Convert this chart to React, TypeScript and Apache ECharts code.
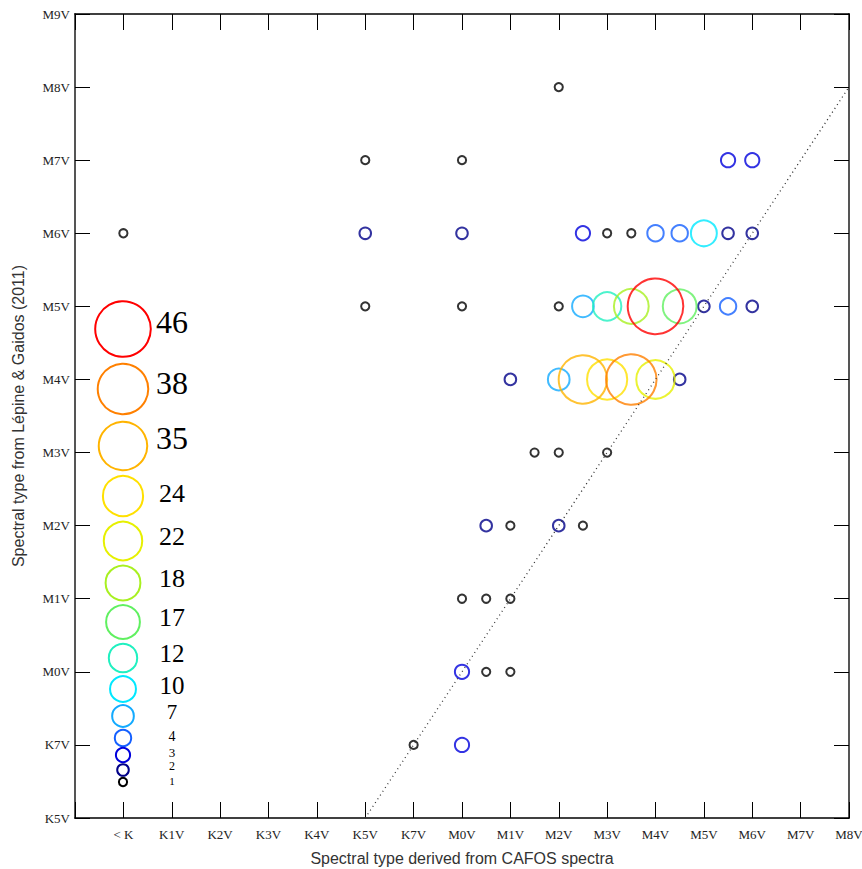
import React, { useEffect, useRef } from "react";
import * as echarts from "echarts";

// Axis categories (index = position on the axis)
const xLabels = ["< K", "K1V", "K2V", "K3V", "K4V", "K5V", "K7V", "M0V", "M1V", "M2V", "M3V", "M4V", "M5V", "M6V", "M7V", "M8V"];
const yLabels = ["K5V", "K7V", "M0V", "M1V", "M2V", "M3V", "M4V", "M5V", "M6V", "M7V", "M8V", "M9V"];

// Data: CAFOS type index, Lépine & Gaidos type index, number of stars
const cafosType = [
  9,
  5, 7, 12.5, 13,
  0, 5, 7, 9.5, 10, 10.5, 11, 11.5, 12, 12.5, 13,
  5, 7, 9, 9.5, 10, 10.5, 11, 11.5, 12, 12.5, 13,
  8, 9, 9.5, 10, 10.5, 11, 11.5,
  8.5, 9, 10,
  7.5, 8, 9, 9.5,
  7, 7.5, 8,
  7, 7.5, 8,
  6, 7,
];
const lepineType = [
  10,
  9, 9, 9, 9,
  8, 8, 8, 8, 8, 8, 8, 8, 8, 8, 8,
  7, 7, 7, 7, 7, 7, 7, 7, 7, 7, 7,
  6, 6, 6, 6, 6, 6, 6,
  5, 5, 5,
  4, 4, 4, 4,
  3, 3, 3,
  2, 2, 2,
  1, 1,
];
const counts = [
  1,
  1, 1, 3, 3,
  1, 2, 2, 3, 1, 1, 4, 4, 10, 2, 2,
  1, 1, 1, 7, 12, 18, 46, 17, 2, 4, 2,
  2, 7, 35, 24, 38, 22, 2,
  1, 1, 1,
  2, 1, 2, 1,
  1, 1, 1,
  3, 1, 1,
  1, 3,
];

// Size legend
const legendCounts = [46, 38, 35, 24, 22, 18, 17, 12, 10, 7, 4, 3, 2, 1];
const legendColors = [
  "#ff0000", "#ff8000", "#ffb400", "#ffe000", "#e6f000", "#a8f020", "#60f060",
  "#20f0c0", "#00e8ff", "#12aaff", "#1560ff", "#0000dc", "#000088", "#000000",
];

// 1:1 relation line (K5V = K5V ... M8V = M8V)
const oneToOne = [[5, 0], [15, 10]];

const sizeOf = (n: number) => 8.2 * Math.sqrt(n);
const colorOf = (n: number) => legendColors[legendCounts.indexOf(n)] ?? "#000";

export default function App() {
  const ref = useRef<HTMLDivElement>(null);
  useEffect(() => {
    if (!ref.current) return;
    const chart = echarts.init(ref.current, null, { renderer: "svg" });

    const idx = counts.map((_, i) => i).sort((a, b) => counts[a] - counts[b]);
    const points = idx.map((i) => ({
      value: [cafosType[i], lepineType[i], counts[i]],
      itemStyle: { borderColor: colorOf(counts[i]) },
    }));

    const legendCy = [329, 389, 446, 496, 541, 583, 622, 658, 689, 716, 738, 755, 770, 782];
    const legendTy = [322, 383, 438, 493, 536, 578, 617, 653, 685, 712, 736, 752, 766, 781];
    const legendFs = [32, 32, 32, 26, 26, 26, 26, 25, 25, 21, 14, 13, 12, 11];

    const graphic: any[] = [];
    legendCounts.forEach((n, i) => {
      graphic.push({
        type: "circle",
        shape: { cx: 123, cy: legendCy[i], r: sizeOf(n) / 2 },
        style: { fill: "none", stroke: legendColors[i], lineWidth: 2 },
        z: 10,
      });
      graphic.push({
        type: "text",
        x: 172,
        y: legendTy[i],
        style: {
          text: String(n),
          font: `${legendFs[i]}px "Liberation Serif", "DejaVu Serif", serif`,
          textAlign: "center",
          textVerticalAlign: "middle",
          fill: "#000",
        },
        z: 10,
      });
    });

    const serif = '"Liberation Serif", "Times New Roman", serif';
    const sans = '"Liberation Sans", Arial, sans-serif';

    const baseX = {
      type: "value",
      min: -1,
      max: 15,
      interval: 1,
      splitLine: { show: false },
      axisTick: { show: true, inside: true, length: 16, lineStyle: { color: "#000", width: 1 } },
    };
    const baseY = {
      type: "value",
      min: 0,
      max: 11,
      interval: 1,
      splitLine: { show: false },
      axisTick: { show: true, inside: true, length: 15, lineStyle: { color: "#000", width: 1 } },
    };

    chart.setOption({
      animation: false,
      backgroundColor: "#fff",
      grid: { left: 75, right: 13, top: 14, bottom: 51, containLabel: false, outerBoundsMode: "none" },
      xAxis: [
        {
          ...baseX,
          position: "bottom",
          axisLine: { onZero: false, lineStyle: { color: "#000", width: 1.5 } },
          axisLabel: {
            formatter: (v: number) => xLabels[v] ?? "",
            fontFamily: serif,
            fontSize: 13,
            color: "#222",
            margin: 10,
            showMinLabel: true,
            showMaxLabel: true,
          },
          name: "Spectral type derived from CAFOS spectra",
          nameLocation: "middle",
          nameGap: 32,
          nameTextStyle: { fontFamily: sans, fontSize: 16, color: "#333" },
        },
        {
          ...baseX,
          position: "top",
          axisLine: { onZero: false, lineStyle: { color: "#000", width: 1.5 } },
          axisLabel: { show: false },
        },
      ],
      yAxis: [
        {
          ...baseY,
          position: "left",
          axisLine: { onZero: false, lineStyle: { color: "#555", width: 2 } },
          axisLabel: {
            formatter: (v: number) => yLabels[v] ?? "",
            fontFamily: serif,
            fontSize: 13,
            color: "#222",
            margin: 5,
            showMinLabel: true,
            showMaxLabel: true,
          },
          name: "Spectral type from Lépine & Gaidos (2011)",
          nameLocation: "middle",
          nameGap: 49,
          nameTextStyle: { fontFamily: sans, fontSize: 16, color: "#333" },
        },
        {
          ...baseY,
          position: "right",
          axisLine: { onZero: false, lineStyle: { color: "#555", width: 2 } },
          axisLabel: { show: false },
        },
      ],
      series: [
        {
          type: "line",
          data: oneToOne,
          symbol: "none",
          silent: true,
          lineStyle: { type: [1, 3.5], color: "#333", width: 1.3 },
          z: 3,
        },
        {
          type: "scatter",
          data: points,
          symbol: "circle",
          symbolSize: (val: number[]) => sizeOf(val[2]),
          itemStyle: { color: "rgba(0,0,0,0)", borderWidth: 2 },
          z: 2,
        },
      ],
      graphic,
    });

    return () => chart.dispose();
  }, []);

  return <div ref={ref} style={{ position: "absolute", left: 0, top: 0, width: 862, height: 869 }} />;
}
